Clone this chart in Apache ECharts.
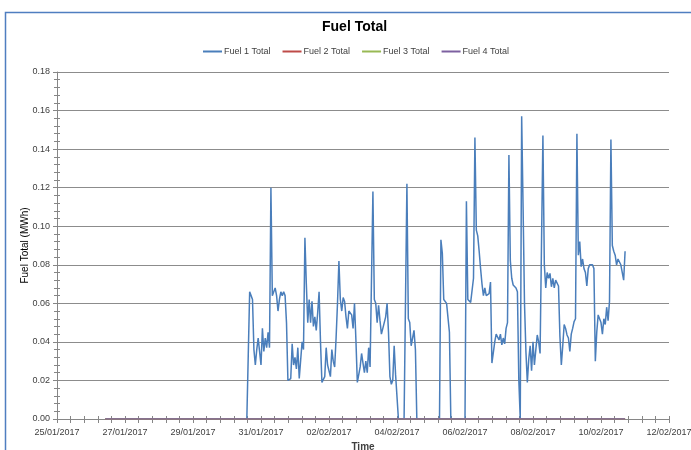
<!DOCTYPE html>
<html><head><meta charset="utf-8">
<script src="https://cdn.jsdelivr.net/npm/echarts@6/dist/echarts.min.js"></script>
<style>html,body{margin:0;padding:0;background:#fff}#c{width:691px;height:450px}</style>
</head><body><div id="c"></div>
<script>
const titleText = 'Fuel Total';
const seriesNames = ['Fuel 1 Total', 'Fuel 2 Total', 'Fuel 3 Total', 'Fuel 4 Total'];
const seriesColors = ['#4a7ebb', '#be4b48', '#98b954', '#7d60a0'];
const axisStart = '2017-01-25 00:00';
const axisEnd = '2017-02-12 00:00';
const xTickLabels = ['25/01/2017', '27/01/2017', '29/01/2017', '31/01/2017', '02/02/2017',
  '04/02/2017', '06/02/2017', '08/02/2017', '10/02/2017', '12/02/2017'];
const yTickLabels = ['0.00', '0.02', '0.04', '0.06', '0.08', '0.10', '0.12', '0.14', '0.16', '0.18'];

// Fuel 1: hourly readings starting at this time
const fuel1Start = '2017-01-30 14:00';
const fuel1Values = [
  0, 0.033, 0.066, 0.064, 0.062, 0.036, 0.028, 0.036, 0.042, 0.035,
  0.028, 0.047, 0.035, 0.042, 0.037, 0.045, 0.037, 0.120, 0.064, 0.066,
  0.068, 0.064, 0.056, 0.062, 0.066, 0.064, 0.066, 0.064, 0.050, 0.020,
  0.019, 0.021, 0.039, 0.028, 0.032, 0.026, 0.037, 0.021, 0.020, 0.040,
  0.036, 0.094, 0.070, 0.050, 0.062, 0.050, 0.061, 0.048, 0.053, 0.046,
  0.055, 0.066, 0.040, 0.019, 0.018, 0.022, 0.037, 0.028, 0.029, 0.022,
  0.036, 0.030, 0.027, 0.042, 0.060, 0.082, 0.062, 0.056, 0.063, 0.061,
  0.053, 0.047, 0.056, 0.055, 0.054, 0.047, 0.060, 0.041, 0.019, 0.019,
  0.027, 0.034, 0.029, 0.024, 0.030, 0.024, 0.037, 0.027, 0.026, 0.118,
  0.062, 0.060, 0.050, 0.059, 0.051, 0.044, 0.044, 0.050, 0.053, 0.060,
  0.045, 0.022, 0.018, 0.020, 0.038, 0.023, 0.024,
  0, 0, 0, 0, 0, 0,
  0.122, 0.052, 0.050, 0.038, 0.0375, 0.046, 0.036,
  0, 0, 0, 0, 0, 0, 0, 0, 0, 0, 0, 0, 0, 0, 0, 0, 0,
  0.093, 0.086, 0.062, 0.061, 0.060, 0.060, 0.045,
  0, 0, 0, 0, 0, 0, 0, 0, 0, 0, 0,
  0.113, 0.062, 0.061, 0.0605, 0.0605, 0.073, 0.146, 0.098, 0.095, 0.087,
  0.078, 0.070, 0.064, 0.068, 0.064, 0.065, 0.065, 0.071, 0.029, 0.029,
  0.040, 0.044, 0.0446, 0.041, 0.044, 0.0384, 0.042, 0.039, 0.047, 0.050,
  0.137, 0.082, 0.073, 0.0695, 0.069, 0.068, 0.066, 0.020, 0, 0.157,
  0.110, 0.060, 0.035, 0.019, 0.031, 0.038, 0.025, 0.040, 0.028, 0.036,
  0.0436, 0.040, 0.034, 0.034, 0.147, 0.080, 0.068, 0.076, 0.073, 0.0755,
  0.0686, 0.073, 0.068, 0.072, 0.073, 0.069, 0.043, 0.028, 0.038, 0.049,
  0.047, 0.0436, 0.042, 0.035, 0.044, 0.047, 0.0505, 0.052, 0.148, 0.085,
  0.092, 0.079, 0.083, 0.078, 0.076, 0.069, 0.078, 0.080, 0.080, 0.080,
  0.078, 0.030, 0.045, 0.054, 0.052, 0.050, 0.044, 0.052, 0.049, 0.058,
  0.051, 0.061, 0.145, 0.090, 0.087, 0.085, 0.080, 0.083, 0.082, 0.080,
  0.081, 0.072, 0.087
];
// Fuels 2-4: flat at zero over the logged period
const otherFuelTimes = ['2017-01-26 10:00', '2017-02-10 17:00'];
const fuel2Values = [0, 0];
const fuel3Values = [0, 0];
const fuel4Values = [0, 0];

function toHours(s) {
  const [d, t] = s.split(' ');
  const [Y, M, D] = d.split('-').map(Number);
  const [h, m] = t.split(':').map(Number);
  const [Y0, M0, D0] = axisStart.split(' ')[0].split('-').map(Number);
  return (Date.UTC(Y, M - 1, D, h, m) - Date.UTC(Y0, M0 - 1, D0)) / 3600000;
}
const x0 = toHours(axisStart), x1 = toHours(axisEnd);
const f1s = toHours(fuel1Start);
const fuel1Data = fuel1Values.map((v, i) => [f1s + i, v]);
const pairs = vals => vals.map((v, i) => [toHours(otherFuelTimes[i]), v]);
const allData = [fuel1Data, pairs(fuel2Values), pairs(fuel3Values), pairs(fuel4Values)];

const font = 'Liberation Sans';
const txt = '#404040';
const axisGray = '#868686';
const chart = echarts.init(document.getElementById('c'), null, {renderer: 'canvas'});
chart.setOption({
  backgroundColor: '#ffffff',
  animation: false,
  title: {
    text: titleText, left: 322, top: 20, padding: 0,
    textStyle: {fontFamily: font, fontSize: 14, fontWeight: 'bold', color: '#000'}
  },
  legend: {
    data: seriesNames, top: 47, left: 203, padding: 0,
    icon: 'rect', itemWidth: 19, itemHeight: 2, itemGap: 12,
    textStyle: {fontFamily: font, fontSize: 9, color: txt, padding: [0, 0, 0, -3]}
  },
  graphic: [{
    type: 'rect', left: 3, top: 10, z: 100, silent: true,
    shape: {width: 700, height: 450},
    style: {fill: 'none', stroke: '#4f7ec0', lineWidth: 1.5}
  }],
  grid: {left: 57, top: 72, width: 612, height: 347, containLabel: false, outerBoundsMode: 'none'},
  xAxis: [{
    type: 'value', min: x0, max: x1, interval: 48,
    name: 'Time', nameLocation: 'middle', nameGap: 23, nameMoveOverlap: false,
    nameTextStyle: {fontFamily: font, fontSize: 10, fontWeight: 'bold', color: txt},
    axisLine: {show: true, lineStyle: {color: axisGray, width: 1}},
    axisTick: {show: true, length: 4, lineStyle: {color: axisGray}},
    minorTick: {show: true, splitNumber: 5, length: 4, lineStyle: {color: axisGray}},
    splitLine: {show: false},
    axisLabel: {
      margin: 9, fontFamily: font, fontSize: 9, color: txt, hideOverlap: false,
      formatter: v => xTickLabels[Math.round((v - x0) / 48)] || ''
    }
  }, {
    type: 'value', min: x0, max: x1, interval: 48, position: 'bottom',
    axisLine: {show: false},
    axisTick: {show: true, inside: true, length: 3, lineStyle: {color: axisGray}},
    minorTick: {show: true, splitNumber: 5, length: 3, lineStyle: {color: axisGray}},
    splitLine: {show: false}, axisLabel: {show: false}
  }],
  yAxis: [{
    type: 'value', min: 0, max: 0.18, interval: 0.02,
    name: 'Fuel Total (MWh)', nameLocation: 'middle', nameGap: 27, nameMoveOverlap: false,
    nameTextStyle: {fontFamily: font, fontSize: 10, color: '#000'},
    axisLine: {show: true, lineStyle: {color: axisGray, width: 1}},
    axisTick: {show: true, length: 4, lineStyle: {color: axisGray}},
    minorTick: {show: true, splitNumber: 5, length: 3, lineStyle: {color: axisGray}},
    splitLine: {show: true, lineStyle: {color: '#8c8c8c', width: 1}},
    axisLabel: {
      margin: 7, fontFamily: font, fontSize: 9, color: txt,
      formatter: v => yTickLabels[Math.round(v / 0.02)] || ''
    }
  }, {
    type: 'value', min: 0, max: 0.18, interval: 0.02, position: 'left',
    axisLine: {show: false},
    axisTick: {show: true, inside: true, length: 3, lineStyle: {color: axisGray}},
    minorTick: {show: true, splitNumber: 5, length: 3, lineStyle: {color: axisGray}},
    splitLine: {show: false}, axisLabel: {show: false}
  }],
  series: seriesNames.map((name, i) => ({
    name, type: 'line', data: allData[i],
    xAxisIndex: 0, yAxisIndex: 0,
    showSymbol: false, symbol: 'none',
    color: seriesColors[i],
    lineStyle: {color: seriesColors[i], width: 1.5},
    z: 2 + i
  }))
});
</script></body></html>
